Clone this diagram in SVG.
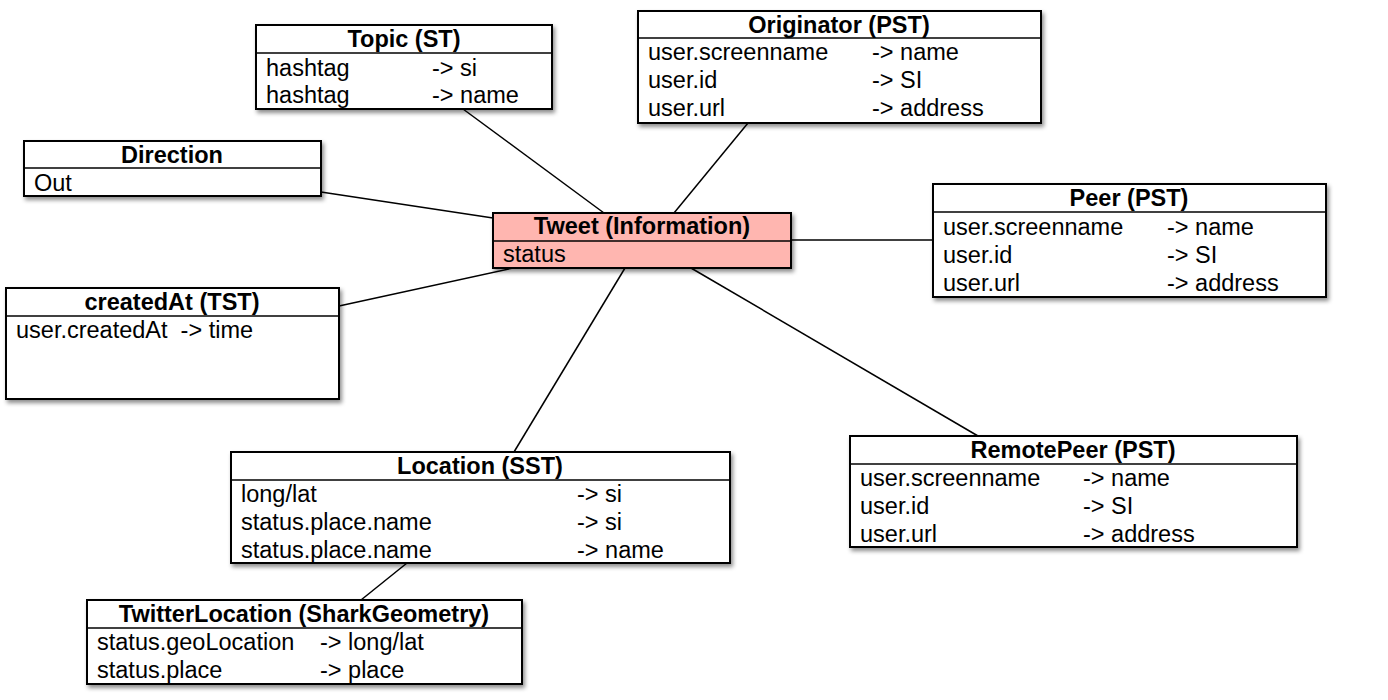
<svg xmlns="http://www.w3.org/2000/svg" width="1388" height="700" viewBox="0 0 1388 700">
<style>
.box{fill:#fff;stroke:#000;stroke-width:2;filter:url(#sh)}
.tw{fill:#ffb6b0}
.sep{stroke:#000;stroke-width:1.5}
.t{font-family:"Liberation Sans",Arial,sans-serif;font-size:23.5px;fill:#000}
.h{font-weight:bold;text-anchor:middle}
.c{stroke:#000;stroke-width:1.5;fill:none}
</style>
<defs>
<filter id="sh" x="-10%" y="-10%" width="120%" height="130%">
<feDropShadow dx="2" dy="3" stdDeviation="2" flood-color="#000" flood-opacity="0.45"/>
</filter>
</defs>
<g id="connectors">
<line class="c" x1="463" y1="109" x2="604" y2="213"/>
<line class="c" x1="748" y1="123" x2="674" y2="213"/>
<line class="c" x1="321" y1="192" x2="493" y2="218"/>
<line class="c" x1="791" y1="240" x2="933" y2="240"/>
<line class="c" x1="339" y1="306" x2="513" y2="268"/>
<line class="c" x1="514" y1="452" x2="625" y2="268"/>
<line class="c" x1="691" y1="268" x2="978" y2="436"/>
<line class="c" x1="407" y1="563" x2="361" y2="600"/>
</g>
<g id="topic">
<rect class="box" x="256" y="25" width="296" height="84"/>
<line class="sep" x1="256" y1="53" x2="552" y2="53"/>
<text class="t h" x="404" y="47">Topic (ST)</text>
<text class="t" x="266" y="76">hashtag</text><text class="t" x="432" y="76">-&gt; si</text>
<text class="t" x="266" y="103">hashtag</text><text class="t" x="432" y="103">-&gt; name</text>
</g>
<g id="originator">
<rect class="box" x="638" y="11" width="403" height="112"/>
<line class="sep" x1="638" y1="38" x2="1041" y2="38"/>
<text class="t h" x="839" y="33">Originator (PST)</text>
<text class="t" x="648" y="60">user.screenname</text><text class="t" x="872" y="60">-&gt; name</text>
<text class="t" x="648" y="88">user.id</text><text class="t" x="872" y="88">-&gt; SI</text>
<text class="t" x="648" y="116">user.url</text><text class="t" x="872" y="116">-&gt; address</text>
</g>
<g id="direction">
<rect class="box" x="24" y="141" width="297" height="55"/>
<line class="sep" x1="24" y1="168" x2="321" y2="168"/>
<text class="t h" x="172" y="163">Direction</text>
<text class="t" x="34" y="191">Out</text>
</g>
<g id="tweet">
<rect class="box tw" x="493" y="213" width="298" height="55"/>
<line class="sep" x1="493" y1="241" x2="791" y2="241"/>
<text class="t h" x="642" y="234">Tweet (Information)</text>
<text class="t" x="503" y="262">status</text>
</g>
<g id="peer">
<rect class="box" x="933" y="184" width="393" height="113"/>
<line class="sep" x1="933" y1="212" x2="1326" y2="212"/>
<text class="t h" x="1129" y="206">Peer (PST)</text>
<text class="t" x="943" y="235">user.screenname</text><text class="t" x="1167" y="235">-&gt; name</text>
<text class="t" x="943" y="263">user.id</text><text class="t" x="1167" y="263">-&gt; SI</text>
<text class="t" x="943" y="291">user.url</text><text class="t" x="1167" y="291">-&gt; address</text>
</g>
<g id="createdAt">
<rect class="box" x="6" y="288" width="333" height="111"/>
<line class="sep" x1="6" y1="316" x2="339" y2="316"/>
<text class="t h" x="172" y="310">createdAt (TST)</text>
<text class="t" x="16" y="338" xml:space="preserve">user.createdAt  -&gt; time</text>
</g>
<g id="location">
<rect class="box" x="231" y="452" width="499" height="111"/>
<line class="sep" x1="231" y1="480" x2="730" y2="480"/>
<text class="t h" x="480" y="474">Location (SST)</text>
<text class="t" x="241" y="502">long/lat</text><text class="t" x="577" y="502">-&gt; si</text>
<text class="t" x="241" y="530">status.place.name</text><text class="t" x="577" y="530">-&gt; si</text>
<text class="t" x="241" y="558">status.place.name</text><text class="t" x="577" y="558">-&gt; name</text>
</g>
<g id="remotePeer">
<rect class="box" x="850" y="436" width="447" height="111"/>
<line class="sep" x1="850" y1="464" x2="1297" y2="464"/>
<text class="t h" x="1073" y="458">RemotePeer (PST)</text>
<text class="t" x="860" y="486">user.screenname</text><text class="t" x="1083" y="486">-&gt; name</text>
<text class="t" x="860" y="514">user.id</text><text class="t" x="1083" y="514">-&gt; SI</text>
<text class="t" x="860" y="542">user.url</text><text class="t" x="1083" y="542">-&gt; address</text>
</g>
<g id="twitterLocation">
<rect class="box" x="87" y="600" width="435" height="84"/>
<line class="sep" x1="87" y1="628" x2="522" y2="628"/>
<text class="t h" x="304" y="622">TwitterLocation (SharkGeometry)</text>
<text class="t" x="97" y="650">status.geoLocation</text><text class="t" x="320" y="650">-&gt; long/lat</text>
<text class="t" x="97" y="678">status.place</text><text class="t" x="320" y="678">-&gt; place</text>
</g>
</svg>
